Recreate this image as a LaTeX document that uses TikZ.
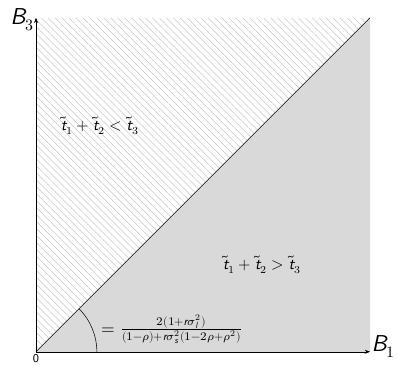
\documentclass[tikz,border=0pt]{standalone}
\usepackage{unicode-math}
\setmathfont{Latin Modern Math}
\setmathfont[range={"0030-"0039}]{lmsans10-regular.otf}
\setmathfont[range={it/{Latin,latin}->up}]{lmsans10-oblique.otf}
\setmathfont[range={}]{Latin Modern Math}
\usetikzlibrary{patterns.meta, arrows.meta}

\begin{document}
\sffamily
\begin{tikzpicture}[
        axis/.style={-{Stealth[length=4pt, width=3pt]}, thin},
        hatched/.style={pattern={Lines[angle=-45, distance=3.7pt, line width=0.4pt]}, pattern color=black!22},
        shaded/.style={fill=black!15},
        lbl/.style={font=\large}
    ]
%
    \useasboundingbox (-0.953,-0.37) rectangle (9.58,9.31);
    % Corners
    \coordinate (O) at (0,0);
    \coordinate (X) at (8.84,0);
    \coordinate (Y) at (0,8.84);
    \coordinate (C) at (8.84,8.84);
%
    % Regions
    \fill[hatched] (O) -- (Y) -- (C) -- cycle;
    \fill[shaded] (O) -- (X) -- (C) -- cycle;
    \draw (O) -- (C);
    \draw (1.61,0) arc[start angle=0, end angle=45, radius=1.61];
%
    % Axes
    \draw[axis] (O) -- (X);
    \draw[axis] (O) -- (Y);
    \node[anchor=base west, font=\LARGE, inner sep=1pt] (b1) at ([yshift=0pt]X) {$B_1$};
    \node[anchor=base east, font=\LARGE, inner sep=1pt] (b3) at ([yshift=-5pt]Y) {$B_3$};
    \node[below, inner sep=2pt, font=\small] (zero) at (O) {0};
%
    % Labels
    \node[lbl] (less) at (1.69,5.98) {$\tilde{t}_1+\tilde{t}_2<\tilde{t}_3$};
    \node[lbl] (more) at (5.98,2.30) {$\tilde{t}_1+\tilde{t}_2>\tilde{t}_3$};
    \node[lbl, scale=1.1] (ang) at (3.6,0.6) {$=\frac{2(1+r\sigma_l^2)}{(1-\rho)+r\sigma_s^2(1-2\rho+\rho^2)}$};
%
\end{tikzpicture}
\end{document}
